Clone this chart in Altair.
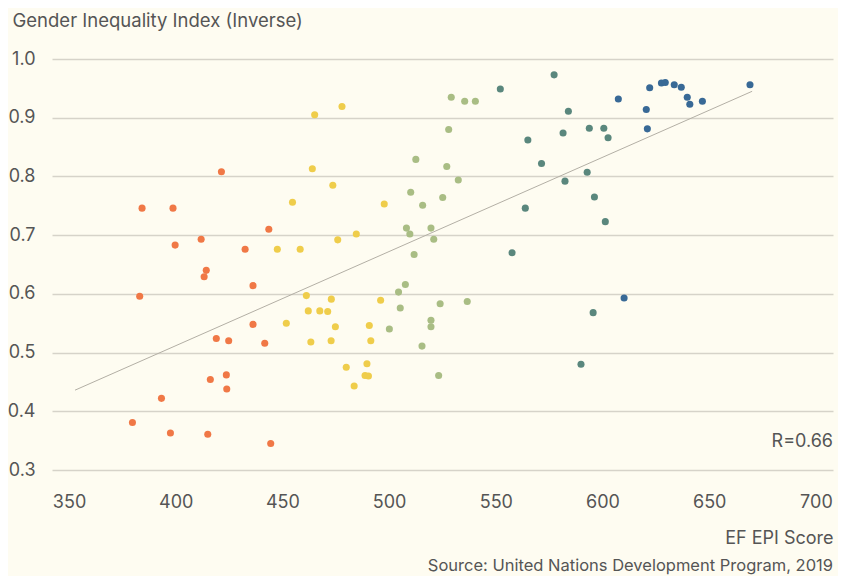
import altair as alt
import pandas as pd

# ---- data ----
orange_x = [421.4, 384.2, 398.7, 443.6, 399.7, 411.9, 432.5, 414.3, 413.3, 436.2, 383.1, 436.2,
            419.0, 424.8, 441.7, 423.7, 416.2, 423.9, 393.3, 379.7, 397.5, 415.0, 444.5]
orange_y = [0.808, 0.746, 0.746, 0.710, 0.683, 0.693, 0.676, 0.640, 0.629, 0.614, 0.596, 0.548,
            0.524, 0.520, 0.516, 0.462, 0.454, 0.438, 0.422, 0.381, 0.363, 0.361, 0.345]

yellow_x = [477.9, 465.1, 464.0, 473.6, 454.7, 497.7, 484.6, 475.9, 447.6, 458.3, 461.2, 472.9,
            496.0, 451.8, 462.1, 467.5, 471.2, 474.8, 490.7, 463.3, 472.8, 491.4, 479.9, 489.6,
            488.7, 490.3, 483.6]
yellow_y = [0.919, 0.905, 0.813, 0.785, 0.756, 0.753, 0.702, 0.692, 0.676, 0.676, 0.597, 0.591,
            0.589, 0.550, 0.571, 0.571, 0.570, 0.544, 0.546, 0.518, 0.520, 0.520, 0.475, 0.481,
            0.461, 0.460, 0.443]

green_x = [529.1, 535.4, 540.4, 527.9, 512.5, 527.0, 532.4, 510.1, 525.1, 515.7, 508.1, 509.7,
           519.6, 520.9, 511.7, 507.6, 504.4, 505.2, 523.9, 536.6, 500.1, 519.6, 519.6, 515.4, 523.2]
green_y = [0.935, 0.928, 0.928, 0.880, 0.829, 0.817, 0.794, 0.773, 0.764, 0.751, 0.712, 0.702,
           0.712, 0.693, 0.667, 0.616, 0.603, 0.576, 0.583, 0.587, 0.540, 0.555, 0.544, 0.511, 0.461]

teal_x = [552.1, 577.3, 584.0, 565.0, 581.5, 593.8, 600.6, 602.6, 571.4, 592.8, 582.4, 596.2,
          563.8, 601.3, 557.6, 595.6, 589.9]
teal_y = [0.949, 0.973, 0.911, 0.862, 0.874, 0.882, 0.882, 0.866, 0.822, 0.807, 0.792, 0.765,
          0.746, 0.723, 0.670, 0.568, 0.480]

blue_x = [607.4, 622.1, 627.6, 629.4, 633.6, 636.9, 639.7, 640.9, 646.8, 620.5, 621.0, 610.1, 669.1]
blue_y = [0.932, 0.951, 0.959, 0.960, 0.956, 0.952, 0.935, 0.923, 0.928, 0.914, 0.881, 0.593, 0.956]

groups = ["very low", "low", "moderate", "high", "very high"]
colors = ["#f07846", "#efcd4b", "#a9bd84", "#5a877d", "#386996"]

trend_x = [352.8, 670.1]
trend_y = [0.436, 0.945]

x_ticks = [350, 400, 450, 500, 550, 600, 650, 700]
y_ticks = [0.3, 0.4, 0.5, 0.6, 0.7, 0.8, 0.9, 1.0]

r_label = ["R=0.66"]
source_label = ["Source: United Nations Development Program, 2019"]

# ---- build tables ----
rows = []
for g, xs, ys in zip(groups, [orange_x, yellow_x, green_x, teal_x, blue_x],
                     [orange_y, yellow_y, green_y, teal_y, blue_y]):
    for xv, yv in zip(xs, ys):
        rows.append({"epi": xv, "gii": yv, "band": g})
points_df = pd.DataFrame(rows)
trend_df = pd.DataFrame({"epi": trend_x, "gii": trend_y})

FONT = "Inter"
TXT = "#555555"
W, H = 781, 411

x_scale = alt.Scale(domain=[342, 708], nice=False, zero=False)
y_scale = alt.Scale(domain=[0.3, 1.0], nice=False, zero=False)

x_axis = alt.Axis(values=x_ticks, grid=False, domain=False, ticks=False, tickSize=0,
                  labelFont=FONT, labelFontSize=18, labelColor=TXT, labelPadding=23,
                  labelBaseline="top",
                  title="EF EPI Score", titleFont=FONT, titleFontSize=18, titleFontWeight="normal",
                  titleColor=TXT, titleAlign="right", titleBaseline="alphabetic",
                  titleX=W, titleY=73, titleAnchor="end")
y_axis = alt.Axis(values=y_ticks, format=".1f", grid=True, gridColor="#d6d3c9", gridWidth=1.3,
                  domain=False, ticks=False, tickSize=0,
                  labelFont=FONT, labelFontSize=18, labelColor=TXT, labelPadding=17,
                  labelAlign="right", labelBaseline="middle",
                  title="Gender Inequality Index (Inverse)", titleFont=FONT, titleFontSize=18.5,
                  titleFontWeight="normal", titleColor=TXT, titleAngle=0, titleAlign="left",
                  titleBaseline="alphabetic", titleX=-40, titleY=-32.5)

pts = alt.Chart(points_df).mark_circle(size=50, opacity=1).encode(
    x=alt.X("epi:Q", scale=x_scale, axis=x_axis),
    y=alt.Y("gii:Q", scale=y_scale, axis=y_axis),
    color=alt.Color("band:N", scale=alt.Scale(domain=groups, range=colors), legend=None),
)

trend = alt.Chart(trend_df).mark_line(color="#b3afa5", strokeWidth=1).encode(
    x=alt.X("epi:Q", scale=x_scale),
    y=alt.Y("gii:Q", scale=y_scale),
)

r_text = alt.Chart(pd.DataFrame({"t": r_label})).mark_text(
    align="right", baseline="alphabetic", font=FONT, fontSize=18, color=TXT
).encode(x=alt.value(W), y=alt.value(387.5), text="t:N")

src_text = alt.Chart(pd.DataFrame({"t": source_label})).mark_text(
    align="right", baseline="alphabetic", font=FONT, fontSize=16.5, color=TXT
).encode(x=alt.value(W), y=alt.value(512), text="t:N")

chart = alt.layer(trend, pts, r_text, src_text).properties(
    width=W, height=H,
    autosize=alt.AutoSizeParams(type="none"),
    padding={"left": 44, "top": 51, "right": 5, "bottom": 106},
    background="#fefcf1",
).configure_view(stroke=None)

chart.save("out.html", embed_options={"renderer": "svg", "actions": False})
